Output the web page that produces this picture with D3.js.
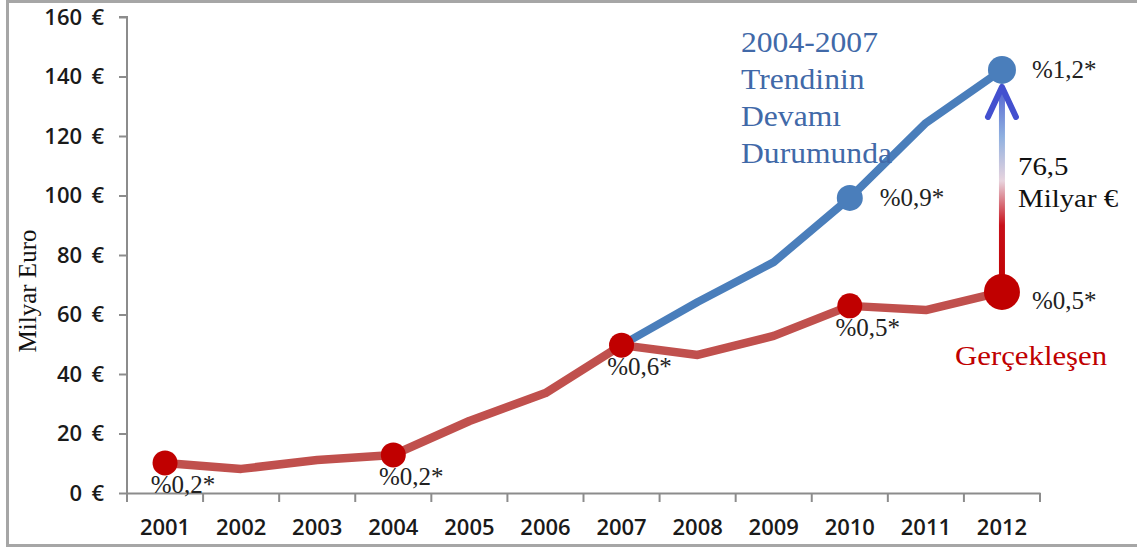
<!DOCTYPE html>
<html lang="tr">
<head>
<meta charset="utf-8">
<script src="https://d3js.org/d3.v7.min.js"></script>
<style type="text/css">
body {
  margin: 0;
  background-color: #ffffff;
}
.axis text {
  font: 600 22px "Open Sans", sans-serif;
  fill: #1a1a1a;
}
.axis line, .axis path {
  fill: none;
  stroke: #8c8c8c;
  stroke-width: 2px;
}
.serif {
  font-family: "Liberation Serif", "Times New Roman", serif;
}
</style>
</head>
<body>
<script type="text/javascript">

// chart data
var years = [2001, 2002, 2003, 2004, 2005, 2006, 2007, 2008, 2009, 2010, 2011, 2012];
var actual = [10.1, 8.1, 11.1, 12.8, 24.2, 33.6, 49.7, 46.4, 52.8, 62.9, 61.5, 67.6];
var trend = [null, null, null, null, null, null, 49.7, 64.2, 77.6, 99.2, 124.4, 142.2];
var yTicks = [0, 20, 40, 60, 80, 100, 120, 140, 160];

var actualMarkers = [2001, 2004, 2007, 2010, 2012];
var trendMarkers = [2010, 2012];

var actualLabels = [
  {year: 2001, text: "%0,2*", side: "below"},
  {year: 2004, text: "%0,2*", side: "below"},
  {year: 2007, text: "%0,6*", side: "below"},
  {year: 2010, text: "%0,5*", side: "below"},
  {year: 2012, text: "%0,5*", side: "right"}
];
var trendLabels = [
  {year: 2010, text: "%0,9*", side: "right"},
  {year: 2012, text: "%1,2*", side: "right"}
];

var trendTitle = ["2004-2007", "Trendinin", "Devamı", "Durumunda"];
var gapLabel = ["76,5", "Milyar €"];
var actualTitle = "Gerçekleşen";
var yTitle = "Milyar Euro";

var width = 1137;
var height = 549;
var margin = {left: 127, right: 97, top: 17, bottom: 56};

var svg = d3.select("body")
  .append("svg")
  .attr("width", width)
  .attr("height", height);

// outer frame
svg.append("rect")
  .attr("x", 7.5)
  .attr("y", 1.5)
  .attr("width", width + 10)
  .attr("height", 544)
  .style("fill", "none")
  .style("stroke", "#a6a6a6")
  .style("stroke-width", 3);

var x = d3.scaleBand()
  .domain(years)
  .range([margin.left, width - margin.right]);

var y = d3.scaleLinear()
  .domain([0, 160])
  .range([height - margin.bottom, margin.top]);

var cx = function(yr) { return x(yr) + x.bandwidth() / 2; };

// axes
var xAxis = svg.append("g")
  .attr("class", "axis")
  .attr("transform", "translate(0," + y(0) + ")")
  .call(d3.axisBottom(x).tickSize(0).tickPadding(26));

xAxis.selectAll(".tick-mark")
  .data(d3.range(years.length + 1))
  .enter()
  .append("line")
  .attr("x1", function(i) { return margin.left + i * x.bandwidth(); })
  .attr("x2", function(i) { return margin.left + i * x.bandwidth(); })
  .attr("y1", 0)
  .attr("y2", 9);

svg.append("g")
  .attr("class", "axis")
  .attr("transform", "translate(" + margin.left + ",0)")
  .call(d3.axisLeft(y).tickValues(yTicks).tickSize(8).tickPadding(15)
    .tickFormat(function(d) { return d + " \u2009€"; }))
  .call(function(g) { g.select(".domain").attr("d", "M-8," + y(160) + "H0V" + y(0)); });

// y title
svg.append("text")
  .attr("class", "serif")
  .attr("transform", "translate(36," + 291 + ") rotate(-90)")
  .attr("text-anchor", "middle")
  .style("font-size", "25px")
  .style("fill", "#111")
  .text(yTitle);

// lines
var line = d3.line()
  .defined(function(d) { return d.v != null; })
  .x(function(d) { return cx(d.year); })
  .y(function(d) { return y(d.v); });

var actualData = years.map(function(yr, i) { return {year: yr, v: actual[i]}; });
var trendData = years.map(function(yr, i) { return {year: yr, v: trend[i]}; });

svg.append("path")
  .datum(trendData)
  .attr("d", line)
  .style("fill", "none")
  .style("stroke", "#4a7ebb")
  .style("stroke-width", 8)
  .style("stroke-linejoin", "round");

svg.append("path")
  .datum(actualData)
  .attr("d", line)
  .style("fill", "none")
  .style("stroke", "#c0504d")
  .style("stroke-width", 8.5)
  .style("stroke-linejoin", "round");

// gap arrow
var defs = svg.append("defs");
var grad = defs.append("linearGradient")
  .attr("id", "gapGrad")
  .attr("gradientUnits", "userSpaceOnUse")
  .attr("x1", 0).attr("x2", 0)
  .attr("y1", y(actual[11])).attr("y2", y(trend[11]));
grad.append("stop").attr("offset", "0").attr("stop-color", "#c00000");
grad.append("stop").attr("offset", "0.3").attr("stop-color", "#c8101a");
grad.append("stop").attr("offset", "0.5").attr("stop-color", "#e8d4de");
grad.append("stop").attr("offset", "0.7").attr("stop-color", "#8fb0e0");
grad.append("stop").attr("offset", "1").attr("stop-color", "#3f48cc");

var ax = cx(2012);
var aTop = y(trend[11]) + 17;
svg.append("line")
  .attr("x1", ax).attr("x2", ax)
  .attr("y1", y(actual[11])).attr("y2", aTop + 2)
  .style("stroke", "url(#gapGrad)")
  .style("stroke-width", 6);
svg.append("path")
  .attr("d", "M" + (ax - 14) + "," + (aTop + 30) + "L" + ax + "," + aTop + "L" + (ax + 14) + "," + (aTop + 30))
  .style("fill", "none")
  .style("stroke", "#4350cf")
  .style("stroke-width", 6)
  .style("stroke-linecap", "round")
  .style("stroke-linejoin", "round");

// markers
svg.selectAll(".trend-dot")
  .data(trendMarkers)
  .enter()
  .append("circle")
  .attr("cx", function(d) { return cx(d); })
  .attr("cy", function(d) { return y(trend[years.indexOf(d)]); })
  .attr("r", function(d) { return d === 2012 ? 14 : 13; })
  .style("fill", "#4a7ebb");

svg.selectAll(".actual-dot")
  .data(actualMarkers)
  .enter()
  .append("circle")
  .attr("cx", function(d) { return cx(d); })
  .attr("cy", function(d) { return y(actual[years.indexOf(d)]); })
  .attr("r", function(d) { return d === 2012 ? 18 : 12.5; })
  .style("fill", "#c00000");

// point labels
function drawLabels(list, values) {
  svg.selectAll(null)
    .data(list)
    .enter()
    .append("text")
    .attr("class", "serif")
    .attr("x", function(d) { return cx(d.year) + (d.side === "below" ? 18 : 30); })
    .attr("y", function(d) {
      var v = y(values[years.indexOf(d.year)]);
      if (d.side === "below") return v + 30;
      return v + (d.year === 2012 && values === actual ? 17 : 8);
    })
    .attr("text-anchor", function(d) { return d.side === "below" ? "middle" : "start"; })
    .style("font-size", "25px")
    .style("fill", "#222")
    .text(function(d) { return d.text; });
}
drawLabels(actualLabels, actual);
drawLabels(trendLabels, trend);

// annotations (serif text drawn slightly wide, as in the source)
svg.append("text")
  .attr("class", "serif")
  .attr("transform", "translate(741,52) scale(1.09,1)")
  .style("font-size", "29px")
  .style("fill", "#4169a8")
  .selectAll("tspan")
  .data(trendTitle)
  .enter()
  .append("tspan")
  .attr("x", 0)
  .attr("y", function(d, i) { return i * 37; })
  .text(function(d) { return d; });

svg.append("text")
  .attr("class", "serif")
  .attr("transform", "translate(1018,175) scale(1.11,1)")
  .style("font-size", "26px")
  .style("fill", "#111")
  .selectAll("tspan")
  .data(gapLabel)
  .enter()
  .append("tspan")
  .attr("x", 0)
  .attr("y", function(d, i) { return i * 32; })
  .text(function(d) { return d; });

svg.append("text")
  .attr("class", "serif")
  .attr("transform", "translate(955,365) scale(1.1,1)")
  .style("font-size", "28px")
  .style("fill", "#c00000")
  .text(actualTitle);

</script>
</body>
</html>
